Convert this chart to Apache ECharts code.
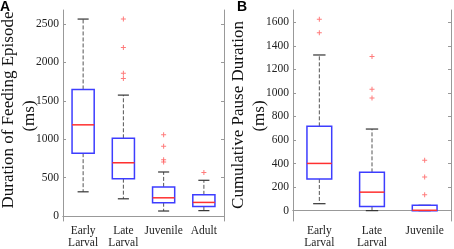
<!DOCTYPE html>
<html>
<head>
<meta charset="utf-8">
<script src="https://cdn.jsdelivr.net/npm/echarts@6/dist/echarts.min.js"></script>
<style>
  html, body { margin: 0; padding: 0; background: #fff; }
  #chart { width: 454px; height: 249px; }
</style>
</head>
<body>
<div id="chart"></div>
<script>
// panel A: duration of feeding episode (ms)
const catsA = ['Early\nLarval', 'Late\nLarval', 'Juvenile', 'Adult'];
// [low, q1, median, q3, high]
const boxA = [
  [315, 818, 1187, 1648, 2564],
  [224, 486, 693, 1012, 1574],
  [65, 173, 237, 379, 573],
  [70, 125, 177, 276, 465]
];
const outA = [[1, 2564], [1, 2194], [1, 1858], [1, 1790], [2, 1058], [2, 908], [2, 732], [2, 702], [3, 568]];
const ticksA = [0, 500, 1000, 1500, 2000, 2500];

// panel B: cumulative pause duration (ms)
const catsB = ['Early\nLarval', 'Late\nLarval', 'Juvenile'];
const boxB = [
  [59, 269, 401, 716, 1322],
  [0, 36, 157, 325, 693],
  [0, 0, 3, 45, 45]
];
const outB = [[0, 1625], [0, 1510], [1, 1310], [1, 1032], [1, 957], [2, 429], [2, 286], [2, 135]];
const ticksB = [0, 200, 400, 600, 800, 1000, 1200, 1400, 1600];

const serif = '"Liberation Serif", "DejaVu Serif", serif';
const frame = '#999';
const plus = 'path://M2,0H3V2H5V3H3V5H2V3H0V2H2Z';

function renderBox(widthFrac) {
  return function (params, api) {
    const i = api.value(0);
    const pLow = api.coord([i, api.value(1)]);
    const pQ1 = api.coord([i, api.value(2)]);
    const pMed = api.coord([i, api.value(3)]);
    const pQ3 = api.coord([i, api.value(4)]);
    const pHigh = api.coord([i, api.value(5)]);
    const cx = pMed[0];
    const w = api.size([1, 0])[0] * widthFrac;
    const cap = w / 2;
    const dash = { stroke: '#555', lineWidth: 1, lineDash: [4, 2] };
    return {
      type: 'group',
      children: [
        { type: 'line', shape: { x1: cx, y1: pQ3[1], x2: cx, y2: pHigh[1] }, style: dash },
        { type: 'line', shape: { x1: cx, y1: pQ1[1], x2: cx, y2: pLow[1] }, style: dash },
        { type: 'line', shape: { x1: cx - cap / 2, y1: pHigh[1], x2: cx + cap / 2, y2: pHigh[1] }, style: { stroke: '#333', lineWidth: 1.2 } },
        { type: 'line', shape: { x1: cx - cap / 2, y1: pLow[1], x2: cx + cap / 2, y2: pLow[1] }, style: { stroke: '#333', lineWidth: 1.2 } },
        { type: 'rect', shape: { x: cx - w / 2, y: pQ3[1], width: w, height: pQ1[1] - pQ3[1] }, style: { fill: 'none', stroke: '#3d3dff', lineWidth: 1.5 } },
        { type: 'line', shape: { x1: cx - w / 2, y1: pMed[1], x2: cx + w / 2, y2: pMed[1] }, style: { stroke: '#ff3030', lineWidth: 1.5 } }
      ]
    };
  };
}

function xAxes(cats, gridIndex) {
  const base = {
    type: 'category',
    data: cats,
    gridIndex: gridIndex,
    axisLine: { lineStyle: { color: frame } },
    axisTick: { inside: true, alignWithLabel: true, length: 3, lineStyle: { color: frame } }
  };
  return [
    Object.assign({}, base, {
      position: 'bottom',
      axisLabel: { fontFamily: serif, fontSize: 11.5, color: '#222', lineHeight: 12, margin: 4, interval: 0 }
    }),
    Object.assign({}, base, { position: 'top', axisLabel: { show: false } })
  ];
}

function yAxes(min, max, ticks, gridIndex) {
  const base = {
    type: 'value',
    gridIndex: gridIndex,
    min: min,
    max: max,
    splitLine: { show: false },
    axisLine: { show: true, lineStyle: { color: frame } },
    axisTick: { show: true, inside: true, length: 3, customValues: ticks, lineStyle: { color: frame } }
  };
  return [
    Object.assign({}, base, {
      position: 'left',
      axisLabel: {
        customValues: ticks, fontFamily: serif, fontSize: 11.5, color: '#222', margin: 4,
        formatter: (v) => String(v)
      }
    }),
    Object.assign({}, base, { position: 'right', axisLabel: { show: false } })
  ];
}

const chart = echarts.init(document.getElementById('chart'), null, { renderer: 'canvas' });

chart.setOption({
  animation: false,
  backgroundColor: '#fff',
  textStyle: { fontFamily: serif },
  grid: [
    { left: 63, top: 10, width: 161, height: 212 },
    { left: 293, top: 10, width: 158, height: 213 }
  ],
  xAxis: xAxes(catsA, 0).concat(xAxes(catsB, 1)),
  yAxis: yAxes(-65, 2682, ticksA, 0).concat(yAxes(-88, 1704, ticksB, 1)),
  series: [
    {
      type: 'custom', xAxisIndex: 0, yAxisIndex: 0,
      renderItem: renderBox(0.55),
      encode: { x: 0, y: [1, 2, 3, 4, 5] },
      data: boxA.map((b, i) => [i].concat(b))
    },
    {
      type: 'scatter', xAxisIndex: 0, yAxisIndex: 0,
      symbol: plus, symbolSize: 5,
      itemStyle: { color: '#ff5a5a' },
      data: outA
    },
    {
      type: 'custom', xAxisIndex: 2, yAxisIndex: 2,
      renderItem: renderBox(0.47),
      encode: { x: 0, y: [1, 2, 3, 4, 5] },
      data: boxB.map((b, i) => [i].concat(b))
    },
    {
      type: 'scatter', xAxisIndex: 2, yAxisIndex: 2,
      symbol: plus, symbolSize: 5,
      itemStyle: { color: '#ff5a5a' },
      data: outB
    }
  ],
  graphic: [
    { type: 'text', left: 0, top: 0, style: { text: 'A', font: 'bold 14px "Liberation Sans"', fill: '#000' } },
    { type: 'text', left: 237, top: 0, style: { text: 'B', font: 'bold 14px "Liberation Sans"', fill: '#000' } },
    { type: 'text', x: 9, y: 110, rotation: Math.PI / 2, style: { text: 'Duration of Feeding Episode', font: '17px "Liberation Serif"', fill: '#111', align: 'center', verticalAlign: 'middle' } },
    { type: 'text', x: 30, y: 116, rotation: Math.PI / 2, style: { text: '(ms)', font: '17px "Liberation Serif"', fill: '#111', align: 'center', verticalAlign: 'middle' } },
    { type: 'text', x: 239, y: 115, rotation: Math.PI / 2, style: { text: 'Cumulative Pause Duration', font: '17px "Liberation Serif"', fill: '#111', align: 'center', verticalAlign: 'middle' } },
    { type: 'text', x: 260, y: 116, rotation: Math.PI / 2, style: { text: '(ms)', font: '17px "Liberation Serif"', fill: '#111', align: 'center', verticalAlign: 'middle' } }
  ]
});
</script>
</body>
</html>
